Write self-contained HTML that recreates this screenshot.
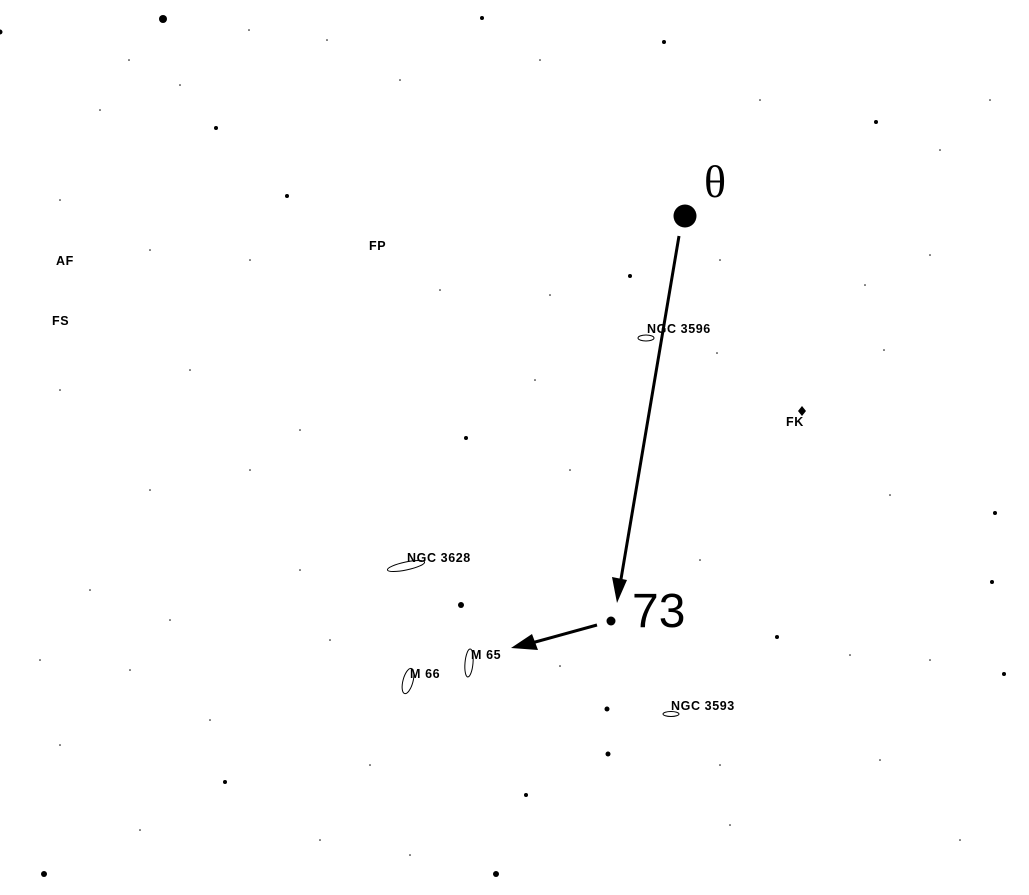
<!DOCTYPE html>
<html><head><meta charset="utf-8"><style>
html,body{margin:0;padding:0;background:#fff;}
svg{display:block;}
.l{font-family:"Liberation Sans",sans-serif;font-size:12.5px;font-weight:bold;fill:#000;letter-spacing:0.6px;}
</style></head><body>
<svg width="1029" height="895" viewBox="0 0 1029 895" xmlns="http://www.w3.org/2000/svg">
<g fill="#000">
<circle cx="163" cy="19" r="4"/>
<circle cx="0" cy="32" r="2.5"/>
<circle cx="482" cy="18" r="2"/>
<circle cx="664" cy="42" r="2"/>
<circle cx="216" cy="128" r="2"/>
<circle cx="287" cy="196" r="2"/>
<circle cx="876" cy="122" r="2"/>
<circle cx="630" cy="276" r="2"/>
<circle cx="466" cy="438" r="2"/>
<polygon points="802,406 806,411 802,416 798,411"/>
<circle cx="995" cy="513" r="2"/>
<circle cx="992" cy="582" r="2"/>
<circle cx="1004" cy="674" r="2"/>
<circle cx="777" cy="637" r="2"/>
<circle cx="461" cy="605" r="3"/>
<circle cx="607" cy="709" r="2.5"/>
<circle cx="608" cy="754" r="2.5"/>
<circle cx="526" cy="795" r="2"/>
<circle cx="225" cy="782" r="2"/>
<circle cx="44" cy="874" r="3"/>
<circle cx="496" cy="874" r="3"/>
<circle cx="611" cy="621" r="4.5"/>
<circle cx="685" cy="216" r="11.5"/>
<g>
<circle cx="129" cy="60" r="0.8"/><circle cx="249" cy="30" r="0.8"/><circle cx="327" cy="40" r="0.8"/>
<circle cx="100" cy="110" r="0.8"/><circle cx="180" cy="85" r="0.8"/><circle cx="400" cy="80" r="0.8"/>
<circle cx="540" cy="60" r="0.8"/><circle cx="760" cy="100" r="0.8"/><circle cx="940" cy="150" r="0.8"/>
<circle cx="990" cy="100" r="0.8"/><circle cx="60" cy="200" r="0.8"/><circle cx="150" cy="250" r="0.8"/>
<circle cx="250" cy="260" r="0.8"/><circle cx="440" cy="290" r="0.8"/><circle cx="550" cy="295" r="0.8"/>
<circle cx="720" cy="260" r="0.8"/><circle cx="865" cy="285" r="0.8"/><circle cx="930" cy="255" r="0.8"/>
<circle cx="60" cy="390" r="0.8"/><circle cx="190" cy="370" r="0.8"/><circle cx="300" cy="430" r="0.8"/>
<circle cx="535" cy="380" r="0.8"/><circle cx="717" cy="353" r="0.8"/><circle cx="884" cy="350" r="0.8"/>
<circle cx="150" cy="490" r="0.8"/><circle cx="250" cy="470" r="0.8"/><circle cx="570" cy="470" r="0.8"/>
<circle cx="700" cy="560" r="0.8"/><circle cx="890" cy="495" r="0.8"/><circle cx="90" cy="590" r="0.8"/>
<circle cx="170" cy="620" r="0.8"/><circle cx="300" cy="570" r="0.8"/><circle cx="40" cy="660" r="0.8"/>
<circle cx="130" cy="670" r="0.8"/><circle cx="330" cy="640" r="0.8"/><circle cx="560" cy="666" r="0.8"/>
<circle cx="850" cy="655" r="0.8"/><circle cx="930" cy="660" r="0.8"/><circle cx="60" cy="745" r="0.8"/>
<circle cx="210" cy="720" r="0.8"/><circle cx="370" cy="765" r="0.8"/><circle cx="720" cy="765" r="0.8"/>
<circle cx="880" cy="760" r="0.8"/><circle cx="140" cy="830" r="0.8"/><circle cx="320" cy="840" r="0.8"/>
<circle cx="410" cy="855" r="0.8"/><circle cx="730" cy="825" r="0.8"/><circle cx="960" cy="840" r="0.8"/>
</g>
</g>
<g fill="none" stroke="#000" stroke-width="1">
<ellipse cx="406" cy="566" rx="19" ry="4" transform="rotate(-12 406 566)"/>
<ellipse cx="646" cy="338" rx="8" ry="3"/>
<ellipse cx="469" cy="663" rx="4" ry="14" transform="rotate(5 469 663)"/>
<ellipse cx="408" cy="681" rx="5" ry="13" transform="rotate(15 408 681)"/>
<ellipse cx="671" cy="714" rx="8" ry="2.5"/>
</g>
<g stroke="#000" stroke-width="3">
<line x1="679" y1="236" x2="620" y2="585"/>
<line x1="597" y1="625" x2="528" y2="644"/>
</g>
<polygon points="617,603 612,577 627,580" fill="#000"/>
<polygon points="511,648 532,634 538,650" fill="#000"/>
<text x="704" y="197" font-family="Liberation Serif,serif" font-size="46">θ</text>
<text x="632" y="627" font-family="Liberation Sans,sans-serif" font-size="48">73</text>
<text class="l" x="407" y="562">NGC 3628</text>
<text class="l" x="647" y="333">NGC 3596</text>
<text class="l" x="671" y="710">NGC 3593</text>
<text class="l" x="471" y="659">M 65</text>
<text class="l" x="410" y="678">M 66</text>
<text class="l" x="786" y="426">FK</text>
<text class="l" x="56" y="265">AF</text>
<text class="l" x="52" y="325">FS</text>
<text class="l" x="369" y="250">FP</text>
</svg>
</body></html>
